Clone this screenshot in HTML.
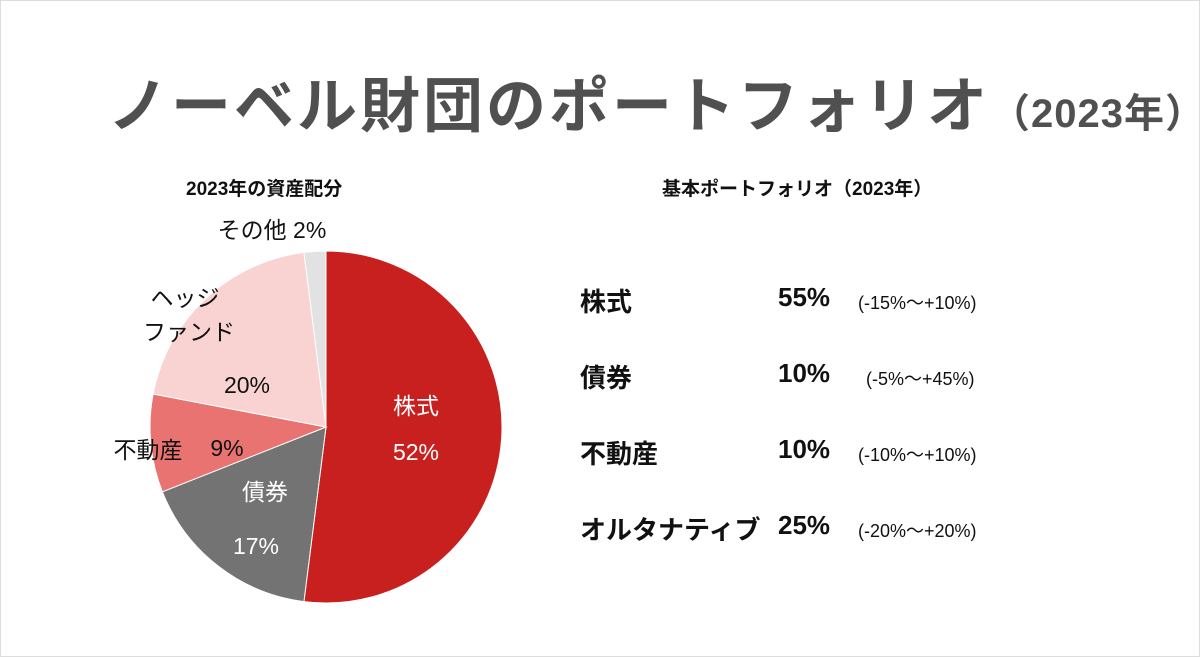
<!DOCTYPE html>
<html><head><meta charset="utf-8"><style>
body{margin:0;width:1200px;height:657px;background:#fff;overflow:hidden;font-family:"Liberation Sans","Noto Sans CJK JP",sans-serif;}
.frame{position:absolute;left:0;top:0;width:1198px;height:655px;border:1px solid #ddd;}
.t{position:absolute;white-space:nowrap;}
</style></head><body>
<div class="frame"></div>
<div class="t" style="left:108px;top:58px;font-size:60px;font-weight:bold;color:#505050;letter-spacing:3px;">ノーベル財団のポートフォリオ<span style="font-size:40px;letter-spacing:1px">（2023年）</span></div>
<div class="t" style="left:186px;top:174px;font-size:19px;font-weight:bold;color:#111;">2023年の資産配分</div>
<div class="t" style="left:662px;top:174px;font-size:19px;font-weight:bold;color:#111;">基本ポートフォリオ（2023年）</div>
<svg id="pie" width="1200" height="657" style="position:absolute;left:0;top:0"></svg>
<div>
<div class="t" style="left:580px;top:282px;font-size:26px;font-weight:bold;color:#111">株式</div>
<div class="t" style="left:778px;top:282px;font-size:26px;font-weight:bold;color:#111">55%</div>
<div class="t" style="left:858px;top:289px;font-size:18px;color:#111">(-15%～+10%)</div>
<div class="t" style="left:580px;top:358px;font-size:26px;font-weight:bold;color:#111">債券</div>
<div class="t" style="left:778px;top:358px;font-size:26px;font-weight:bold;color:#111">10%</div>
<div class="t" style="left:866px;top:365px;font-size:18px;color:#111">(-5%～+45%)</div>
<div class="t" style="left:580px;top:434px;font-size:26px;font-weight:bold;color:#111">不動産</div>
<div class="t" style="left:778px;top:434px;font-size:26px;font-weight:bold;color:#111">10%</div>
<div class="t" style="left:858px;top:441px;font-size:18px;color:#111">(-10%～+10%)</div>
<div class="t" style="left:580px;top:510px;font-size:26px;font-weight:bold;color:#111">オルタナティブ</div>
<div class="t" style="left:778px;top:510px;font-size:26px;font-weight:bold;color:#111">25%</div>
<div class="t" style="left:858px;top:517px;font-size:18px;color:#111">(-20%～+20%)</div>
</div>
<script>
const categories=["株式","債券","不動産","ヘッジファンド","その他"];
const values=[52,17,9,20,2];
const colors=["#c8201f","#737373","#e97370","#f9d2d2","#e2e2e2"];
const cx=326,cy=427,r=176;
const svg=document.getElementById('pie');
const NS="http://www.w3.org/2000/svg";
const total=values.reduce((a,b)=>a+b,0);
function pt(a,rr){return [cx+rr*Math.sin(a),cy-rr*Math.cos(a)];}
let acc=0;
values.forEach((v,i)=>{
  const a0=acc/total*2*Math.PI;acc+=v;const a1=acc/total*2*Math.PI;
  const p0=pt(a0,r),p1=pt(a1,r);
  const p=document.createElementNS(NS,'path');
  p.setAttribute('d',`M${cx},${cy}L${p0[0]},${p0[1]}A${r},${r} 0 ${a1-a0>Math.PI?1:0} 1 ${p1[0]},${p1[1]}Z`);
  p.setAttribute('fill',colors[i]);p.setAttribute('stroke','#fff');p.setAttribute('stroke-width','1');
  
  
  svg.appendChild(p);
});
function txt(x,y,s,c,name){const t=document.createElementNS(NS,'text');t.setAttribute('x',x);t.setAttribute('y',y);t.setAttribute('fill',c);t.setAttribute('font-size','23');t.setAttribute('text-anchor','middle');t.textContent=s;


svg.appendChild(t);}
txt(416,414,categories[0],'#fff','label-stocks');
txt(416,460,values[0]+'%','#fff','value-stocks');
txt(265,500,categories[1],'#fff','label-bonds');
txt(256,554,values[1]+'%','#fff','value-bonds');
txt(148,458,'不動産','#111','label-realestate');
txt(227,456,values[2]+'%','#111','value-realestate');
txt(185,306,'ヘッジ','#111','label-hedge-1');
txt(189,340,'ファンド','#111','label-hedge-2');
txt(247,393,values[3]+'%','#111','value-hedge');
txt(272,238,'その他 '+values[4]+'%','#111','label-other');
</script>
</body></html>
